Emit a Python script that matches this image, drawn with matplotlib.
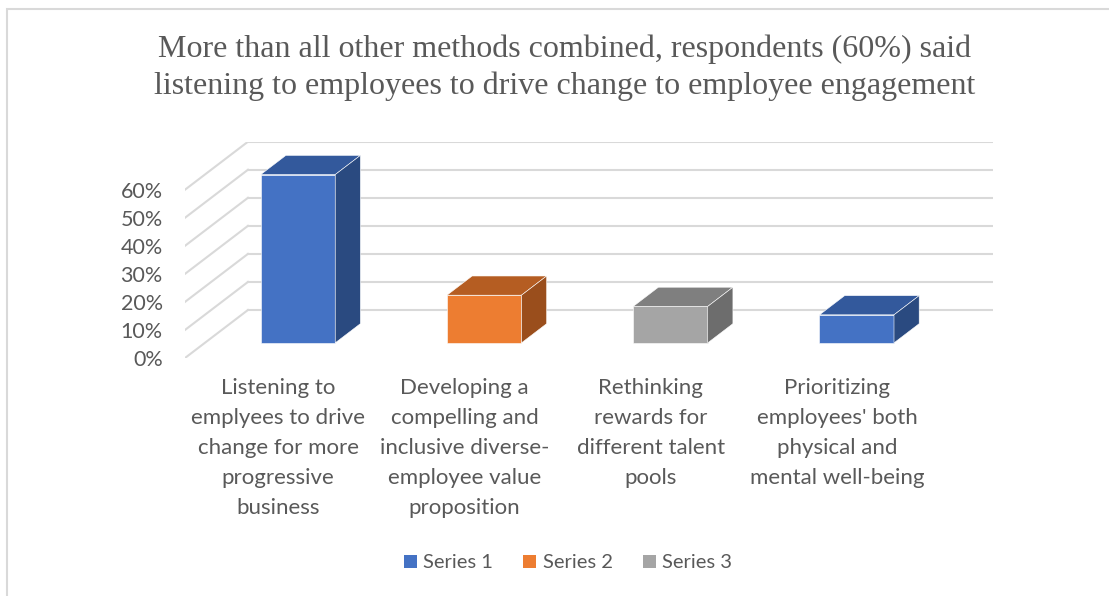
import matplotlib.pyplot as plt
from matplotlib.patches import Polygon, Rectangle, Patch

title = ("More than all other methods combined, respondents (60%) said\n"
         "listening to employees to drive change to employee engagement")
categories = [
    "Listening to\nemplyees to drive\nchange for more\nprogressive\nbusiness",
    "Developing a\ncompelling and\ninclusive diverse-\nemployee value\nproposition",
    "Rethinking\nrewards for\ndifferent talent\npools",
    "Prioritizing\nemployees' both\nphysical and\nmental well-being",
]
values = [60, 17, 13, 10]
bar_series = [0, 1, 2, 0]
series_names = ["Series 1", "Series 2", "Series 3"]
yticks = [0, 10, 20, 30, 40, 50, 60]
ytick_labels = ["0%", "10%", "20%", "30%", "40%", "50%", "60%"]

front_colors = ["#4472C4", "#ED7D31", "#A5A5A5"]
top_colors = ["#33599C", "#B55D22", "#7F7F7F"]
side_colors = ["#2A4A80", "#9A4E1C", "#6D6D6D"]
text_color = "#595959"
grid_color = "#D9D9D9"

# oblique 3d: full depth of the plot box in data units
DX, DY = 0.338, 17.12
d0, d1 = 0.315, 0.715   # bar depth (front, back) as fraction
w = 0.40

fig = plt.figure(figsize=(11.09, 5.96), dpi=100)
ax = fig.add_axes([185 / 1109, 1 - 358 / 596, 808 / 1109, 216.3 / 596])
ax.set_xlim(-0.5, 3.5 + DX)
ax.set_ylim(0, 60 + DY)

# side wall diagonals + back wall gridlines
for t in yticks:
    ax.plot([-0.5, -0.5 + DX], [t, t + DY], color=grid_color, lw=1.5, zorder=1)
    ax.plot([-0.5 + DX, 3.5 + DX], [t + DY, t + DY], color=grid_color, lw=1.5, zorder=1)

for i, v in enumerate(values):
    s = bar_series[i]
    xl = i - w / 2 + d0 * DX
    xr = i + w / 2 + d0 * DX
    y0 = d0 * DY
    ox, oy = (d1 - d0) * DX, (d1 - d0) * DY
    ax.bar(i + d0 * DX, v, bottom=y0, width=w, color=front_colors[s],
           edgecolor="white", linewidth=0.4, zorder=3)
    ax.add_patch(Polygon([(xl, v + y0), (xr, v + y0), (xr + ox, v + y0 + oy),
                          (xl + ox, v + y0 + oy)], closed=True,
                         facecolor=top_colors[s], edgecolor="white", lw=0.4, zorder=3))
    ax.add_patch(Polygon([(xr, y0), (xr, v + y0), (xr + ox, v + y0 + oy),
                          (xr + ox, y0 + oy)], closed=True,
                         facecolor=side_colors[s], edgecolor="white", lw=0.4, zorder=3))

for i, lab in enumerate(categories):
    ax.annotate(lab, xy=(i, 0), xytext=(0, -14.5), textcoords="offset points",
                ha="center", va="top", fontsize=16, family="Lato",
                color=text_color, linespacing=1.63, annotation_clip=False)

ax.set_yticks(yticks)
ax.set_yticklabels(ytick_labels, fontsize=15.5, family="Lato", color=text_color)
ax.tick_params(axis="y", length=0, pad=16)
ax.set_xticks([])
for sp in ax.spines.values():
    sp.set_visible(False)

fig.text(565 / 1109, 1 - 68 / 596, title, ha="center", va="center",
         fontsize=23, family="Liberation Serif", color=text_color, linespacing=1.33)

handles = [Patch(facecolor=c) for c in front_colors]
fig.legend(handles, series_names, loc="center", bbox_to_anchor=(568 / 1109, 1 - 563 / 596),
           ncol=3, frameon=False, prop={"family": "Lato", "size": 14.5},
           labelcolor=text_color, handlelength=0.65, handleheight=0.65,
           handletextpad=0.3, columnspacing=1.5)

fig.patches.append(Rectangle((7 / 1109, -0.1), 1.2, 1.1 - 9 / 596, transform=fig.transFigure,
                             fill=False, edgecolor="#D9D9D9", lw=1.5))

fig.savefig("out.png", dpi=100)
